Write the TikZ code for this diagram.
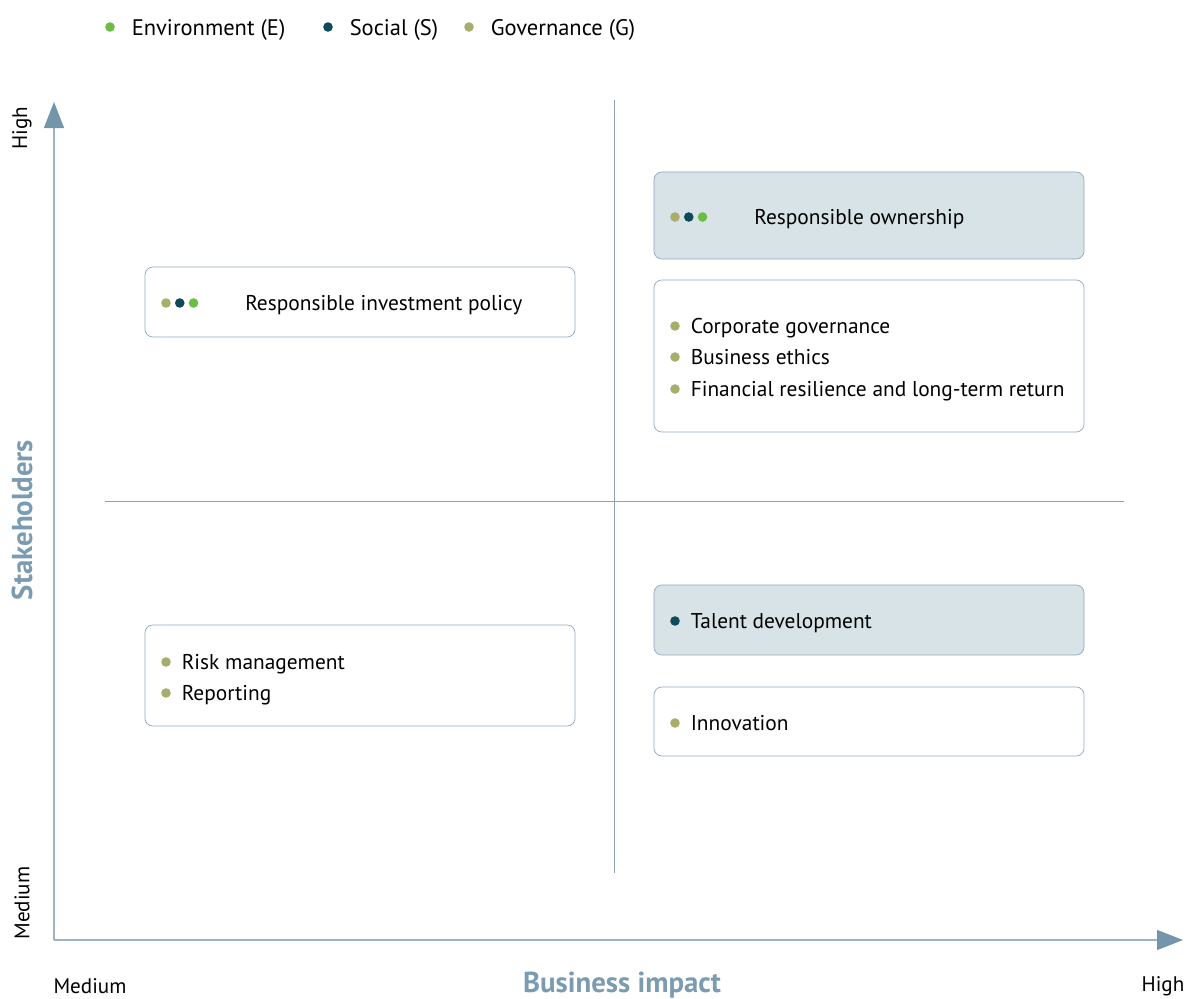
\documentclass[tikz,border=0pt]{standalone}
\usepackage{fontspec}
\setmainfont{PT Sans}
\usetikzlibrary{positioning,arrows.meta}
\definecolor{esgE}{HTML}{6CBD45}
\definecolor{esgS}{HTML}{0D4A5A}
\definecolor{esgG}{HTML}{A9AD6B}
\definecolor{axisline}{HTML}{9BB4C4}
\definecolor{axistip}{HTML}{7496AB}
\definecolor{divider}{HTML}{8EA3B0}
\definecolor{boxline}{HTML}{8EAABB}
\definecolor{boxfill}{HTML}{D7E3E6}
\definecolor{labelblue}{HTML}{7A9BB0}

\begin{document}
\begin{tikzpicture}[
  x=0.025cm, y=-0.025cm,
  dot/.style={circle, inner sep=0pt, minimum size=2.4mm},
  txt/.style={inner sep=0pt, text height=13.7pt, text depth=3pt,
              font=\fontsize{15.2}{18}\selectfont},
  legtxt/.style={inner sep=0pt, text height=15pt, text depth=2.6pt,
                 font=\fontsize{16}{19}\selectfont},
  box/.style={draw=boxline, rounded corners=2mm, line width=0.5pt,
              minimum width=107.5mm, inner sep=0pt},
  hot/.style={box, fill=boxfill},
  axis/.style={draw=axisline, line width=0.9pt,
               -{Triangle[length=6.5mm, width=5mm, fill=axistip, color=axistip]}},
  divide/.style={draw=divider, line width=0.6pt},
  tick/.style={font=\fontsize{15}{18}\selectfont},
  title/.style={font=\fontsize{20.5}{24}\selectfont\bfseries, text=labelblue}
]
\useasboundingbox (0,0) rectangle (1186,999);

% legend
\node[dot, fill=esgE] (legE) at (110,27) {};
\node[legtxt, right=4.1mm of legE] (legEt) {Environment (E)};
\node[dot, fill=esgS] (legS) at (328,27) {};
\node[legtxt, right=4.1mm of legS] (legSt) {Social (S)};
\node[dot, fill=esgG] (legG) at (469,27) {};
\node[legtxt, right=4.1mm of legG] (legGt) {Governance (G)};

% quadrant lines
\coordinate (vtop) at (614,100);
\coordinate (vbot) at (614,873);
\coordinate (hleft) at (105,501);
\coordinate (hright) at (1124,501);
\draw[divide] (vtop) -- (vbot);
\draw[divide] (hleft) -- (hright);

% axes
\coordinate (origin) at (54,940);
\coordinate (ytop) at (54,102);
\coordinate (xend) at (1183,940);
\draw[axis] (origin) -- (ytop);
\draw[axis] (origin) -- (xend);

\node[tick, rotate=90] (yhigh) at (22,128) {High};
\node[tick, rotate=90] (ymed) at (22,903) {Medium};
\node[title, rotate=90] (ylab) at (22,520) {Stakeholders};
\node[tick] (xmed) at (90,986) {Medium};
\node[title] (xlab) at (622,985) {Business impact};
\node[tick] (xhigh) at (1163,986) {High};

% upper left
\node[box, minimum height=17.5mm] (rip) at (360,302) {};
\node[dot, fill=esgG] (rip1) at (166,303) {};
\node[dot, fill=esgS, right=0.9mm of rip1] (rip2) {};
\node[dot, fill=esgE, right=0.9mm of rip2] (rip3) {};
\node[txt, anchor=west] (ript) at (245,303) {Responsible investment policy};

% upper right
\node[hot, minimum height=21.75mm] (own) at (869,215.5) {};
\node[dot, fill=esgG] (own1) at (675,217) {};
\node[dot, fill=esgS, right=0.9mm of own1] (own2) {};
\node[dot, fill=esgE, right=0.9mm of own2] (own3) {};
\node[txt, anchor=west] (ownt) at (754,217) {Responsible ownership};

\node[box, minimum height=38mm] (gov) at (869,356) {};
\node[dot, fill=esgG] (cg) at (675,326) {};
\node[txt, right=2.6mm of cg] (cgt) {Corporate governance};
\node[dot, fill=esgG] (be) at (675,357) {};
\node[txt, right=2.6mm of be] (bet) {Business ethics};
\node[dot, fill=esgG] (fr) at (675,389) {};
\node[txt, right=2.6mm of fr] (frt) {Financial resilience and long-term return};

% lower left
\node[box, minimum height=25.25mm] (risk) at (360,675.5) {};
\node[dot, fill=esgG] (rm) at (166,662) {};
\node[txt, right=2.6mm of rm] (rmt) {Risk management};
\node[dot, fill=esgG] (rep) at (166,693) {};
\node[txt, right=2.6mm of rep] (rept) {Reporting};

% lower right
\node[hot, minimum height=17.5mm] (tal) at (869,620) {};
\node[dot, fill=esgS] (td) at (675,621) {};
\node[txt, right=2.6mm of td] (tdt) {Talent development};
\node[box, minimum height=17.25mm] (inn) at (869,721.5) {};
\node[dot, fill=esgG] (in) at (675,723) {};
\node[txt, right=2.6mm of in] (int) {Innovation};
\end{tikzpicture}
\end{document}
